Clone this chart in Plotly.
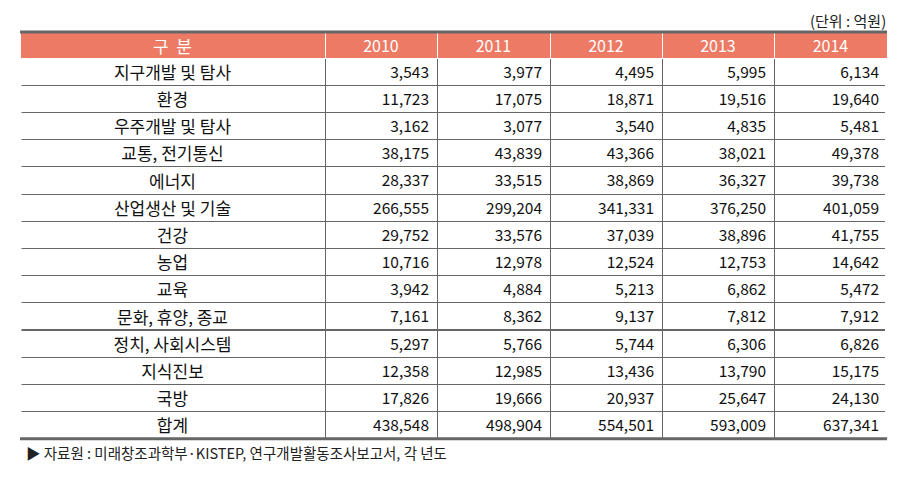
import plotly.graph_objects as go

categories = ["지구개발 및 탐사", "환경", "우주개발 및 탐사", "교통, 전기통신", "에너지",
              "산업생산 및 기술", "건강", "농업", "교육", "문화, 휴양, 종교",
              "정치, 사회시스템", "지식진보", "국방", "합계"]
years = ["2010", "2011", "2012", "2013", "2014"]
v2010 = [3543, 11723, 3162, 38175, 28337, 266555, 29752, 10716, 3942, 7161, 5297, 12358, 17826, 438548]
v2011 = [3977, 17075, 3077, 43839, 33515, 299204, 33576, 12978, 4884, 8362, 5766, 12985, 19666, 498904]
v2012 = [4495, 18871, 3540, 43366, 38869, 341331, 37039, 12524, 5213, 9137, 5744, 13436, 20937, 554501]
v2013 = [5995, 19516, 4835, 38021, 36327, 376250, 38896, 12753, 6862, 7812, 6306, 13790, 25647, 593009]
v2014 = [6134, 19640, 5481, 49378, 39738, 401059, 41755, 14642, 5472, 7912, 6826, 15175, 24130, 637341]
header_label = "구  분"
unit_text = "(단위 : 억원)"
source_text = "▶ 자료원 : 미래창조과학부·KISTEP, 연구개발활동조사보고서, 각 년도"

W, H = 903, 480
PAGE_OFF = 8  # default body margin of the html page


def X(px):
    return (px - PAGE_OFF) / W


def Y(py):
    return 1 - (py - PAGE_OFF) / H


x0, x1 = 20, 887
y_top = 32
HDR_H = 26
ROW_H = 27.2
FONT = "Noto Sans CJK KR, Liberation Sans, sans-serif"

cols = [categories] + [[f"{v:,}" for v in s] for s in (v2010, v2011, v2012, v2013, v2014)]

fig = go.Figure(go.Table(
    domain=dict(x=[X(x0), X(x1)], y=[0, Y(y_top)]),
    columnwidth=[305, 112, 113, 112, 112, 113],
    header=dict(
        values=[header_label] + years,
        fill_color="#EC7A64",
        line=dict(color="white", width=1),
        font=dict(family=FONT, size=[17, 16, 16, 16, 16, 16], color="white"),
        align="center",
        height=HDR_H,
    ),
    cells=dict(
        values=cols,
        fill_color="white",
        line=dict(color="#666666", width=1),
        font=dict(family=FONT, size=[17, 15.5, 15.5, 15.5, 15.5, 15.5], color="#111111"),
        align=["center", "right", "right", "right", "right", "right"],
        height=ROW_H,
    ),
))

y_bot = y_top + HDR_H + ROW_H * len(categories)
# cover outer vertical borders of the body (open sides)
for xe in (x0, x1):
    fig.add_shape(type="rect", xref="paper", yref="paper", x0=X(xe - 2), x1=X(xe + 1.5),
                  y0=Y(y_bot), y1=Y(y_top + HDR_H + 1),
                  line=dict(width=0), fillcolor="white", layer="above")
# thick top and bottom rules
for yy in (y_top, y_bot):
    fig.add_shape(type="line", xref="paper", yref="paper", x0=X(x0), x1=X(x1),
                  y0=Y(yy), y1=Y(yy), line=dict(color="#666666", width=3), layer="above")

fig.add_annotation(text=unit_text, xref="paper", yref="paper", x=X(x1), y=Y(PAGE_OFF + 1),
                   xanchor="right", yanchor="top", showarrow=False, borderpad=0,
                   font=dict(family=FONT, size=15, color="#222222"))
fig.add_annotation(text=source_text, xref="paper", yref="paper", x=X(24), y=Y(452),
                   xanchor="left", yanchor="middle", showarrow=False,
                   font=dict(family=FONT, size=14.5, color="#222222"))

fig.update_layout(width=W, height=H, margin=dict(l=0, r=0, t=0, b=0),
                  paper_bgcolor="white", plot_bgcolor="white")
fig.write_html("out.html")
